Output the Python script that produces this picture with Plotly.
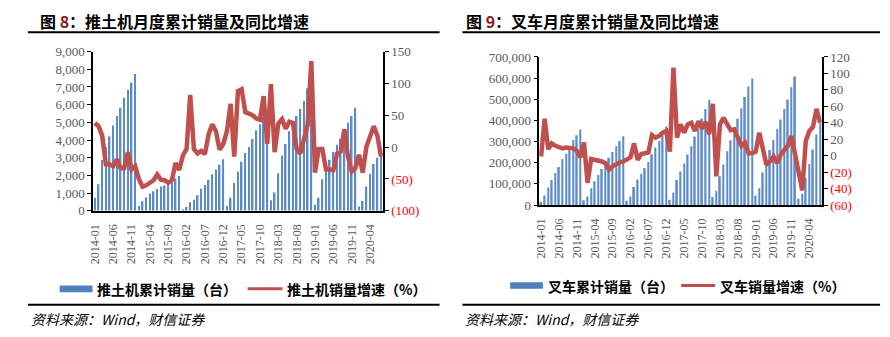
import plotly.graph_objects as go

# ---------------- data ----------------
months = [f"{y}-{m:02d}" for y in range(2014, 2021) for m in range(1, 13)][:79]
tick_months = months[::5]

dozer_cum = [740, 1500, 2870, 3590, 4200, 4820, 5360, 5830, 6390, 6840, 7260, 7730,
             270, 540, 760, 975, 1100, 1230, 1370, 1430, 1500, 1600, 1820, 1970,
             70, 220, 490, 630, 880, 1250, 1460, 1750, 2060, 2330, 2600, 2920,
             290, 740, 1570, 2220, 2780, 3270, 3610, 4060, 4550, 4890, 5300, 5670,
             590, 1040, 2120, 3120, 3770, 4500, 4950, 5360, 5760, 6210, 6930, 7300,
             340, 740, 1790, 2400, 2880, 3330, 3740, 4080, 4640, 4980, 5360, 5830,
             250, 560, 1380, 2100, 2650, 3000, 3250]
dozer_yoy = [38, 33, 18, -27, -27, -30, -19, -33, -33, -8, -35, -30,
             -50, -62, -60, -57, -52, -43, -51, -52, -56, -52, -25, -36,
             -13, -3, 82, -3, -10, -6, -11, 20, 36, 25, -4, 5,
             25, 68, -15, 88, 91, 55, 53, 50, 45, 43, 80, 5,
             99, -8, 37, 44, 29, 40, 38, -3, -10, 15, 35, 135,
             -40, -3, -3, -35, -36, -36, -10, -7, 28, -15, -38, -33,
             -12, -40, 0, 18, 33, 18, -15]

fork_cum = [15, 45, 83, 118, 151, 180, 216, 242, 272, 307, 330, 357,
            23, 40, 80, 113, 142, 171, 197, 224, 251, 278, 303, 325,
            21, 41, 86, 121, 148, 175, 203, 240, 272, 303, 330, 371,
            25, 60, 118, 159, 197, 239, 278, 324, 362, 408, 454, 497,
            38, 68, 136, 192, 254, 306, 360, 408, 458, 511, 560, 598,
            45, 80, 154, 197, 260, 307, 360, 404, 454, 499, 557, 608,
            30, 53, 129, 194, 263, 334, 389]
fork_cum = [v * 1000 for v in fork_cum]
fork_yoy = [-1, 45, 8, 15, 12, 10, 9, 10, 10, 9, 6, -2,
            16, -33, -4, -5, -5, -7, -9, -17, -13, -10, -8, -7,
            -4, -2, 15, -5, 2, 3, 4, 25, 22, 24, 28, 30,
            5, 107, 22, 38, 28, 38, 40, 30, 42, 33, 41, 26,
            63, -25, 38, 46, 38, 31, 32, 22, 12, 16, 3, 3,
            5, 28, 10, -11, -7, -1, -9, 1, 7, 12, 24, 0,
            -25, -42, 18, 30, 35, 57, 40]

dozer_right_vals = [-100, -50, 0, 50, 100, 150]
fork_right_vals = [-60, -40, -20, 0, 20, 40, 60, 80, 100, 120]

BLUE = "#5B8BC8"
RED = "#C0504D"
GRAY = "#595959"
SERIF = "Liberation Serif"
CJK = "Noto Sans CJK SC"
W, H = 890, 337


def px(x):
    return x / W


def py(y):
    return 1 - y / H


def rlabel(v):
    if v < 0:
        return f"<span style='color:#FF0000'>({abs(v)})</span>"
    return str(v)


fig = go.Figure()
fig.add_trace(go.Bar(x=months, y=dozer_cum, marker=dict(color=BLUE, line=dict(width=0)),
                     xaxis="x", yaxis="y", showlegend=False))
fig.add_trace(go.Scatter(x=months, y=dozer_yoy, mode="lines", line=dict(color=RED, width=4.5),
                         xaxis="x", yaxis="y2", showlegend=False))
fig.add_trace(go.Bar(x=months, y=fork_cum, marker=dict(color=BLUE, line=dict(width=0)),
                     xaxis="x2", yaxis="y3", showlegend=False))
fig.add_trace(go.Scatter(x=months, y=fork_yoy, mode="lines", line=dict(color=RED, width=4.5),
                         xaxis="x2", yaxis="y4", showlegend=False))

tickfont = dict(family=SERIF, size=13, color=GRAY)
xfont = dict(family=SERIF, size=12, color=GRAY)

common_x = dict(type="category", tickmode="array", tickvals=tick_months, ticktext=tick_months,
                tickangle=-90, tickfont=xfont, showline=True, linecolor="#000000", linewidth=1.5,
                ticks="", showgrid=False, zeroline=False, range=[-0.5, len(months) - 0.5],
                ticklabelstandoff=7)
common_y = dict(showline=True, linecolor="#000000", linewidth=1.5, ticks="outside", ticklen=4,
                tickcolor="#000000", showgrid=False, zeroline=False, tickfont=tickfont)

fig.update_layout(
    width=W, height=H, autosize=False,
    margin=dict(l=0, r=0, t=0, b=0),
    paper_bgcolor="white", plot_bgcolor="white",
    bargap=0.55,
    xaxis=dict(domain=[px(88.5), px(380)], anchor="y", **common_x),
    yaxis=dict(domain=[py(213.3), py(46.7)], anchor="x", range=[0, 9000], dtick=1000,
               tickformat=",", **common_y),
    yaxis2=dict(domain=[py(213.3), py(46.7)], anchor="x", overlaying="y", side="right",
                range=[-100, 150], tickmode="array", tickvals=dozer_right_vals,
                ticktext=[rlabel(v) for v in dozer_right_vals], **common_y),
    xaxis2=dict(domain=[px(537.3), px(821.5)], anchor="y3", **common_x),
    yaxis3=dict(domain=[py(207.3), py(52.3)], anchor="x2", range=[0, 700000], dtick=100000,
                tickformat=",", **common_y),
    yaxis4=dict(domain=[py(207.3), py(52.3)], anchor="x2", overlaying="y3", side="right",
                range=[-60, 120], tickmode="array", tickvals=fork_right_vals,
                ticktext=[rlabel(v) for v in fork_right_vals], **common_y),
)

shapes = []
annotations = []


def hline(x0, x1, y, w=2, color="#000000"):
    shapes.append(dict(type="line", xref="paper", yref="paper", x0=px(x0), x1=px(x1),
                       y0=py(y), y1=py(y), line=dict(color=color, width=w)))


def text(x, y, s, size, family=CJK, color="#000000", anchor="left"):
    annotations.append(dict(xref="paper", yref="paper", x=px(x), y=py(y), text=s,
                            showarrow=False, xanchor=anchor, yanchor="middle",
                            font=dict(family=family, size=size, color=color)))


# titles
text(33, 15, "<b>图 <span style='color:#8B1A1A'>8</span>：推土机月度累计销量及同比增速</b>", 16)
text(462, 15, "<b>图 <span style='color:#8B1A1A'>9</span>：叉车月度累计销量及同比增速</b>", 16)
hline(23, 437, 26.5)
hline(460, 880, 26.5)
hline(23, 437, 311.5)
hline(460, 880, 311.5)
text(24, 327, "<i>资料来源：Wind，财信证券</i>", 14)
text(461, 327, "<i>资料来源：Wind，财信证券</i>", 14)

# legends
shapes.append(dict(type="rect", xref="paper", yref="paper", x0=px(55), x1=px(88),
                   y0=py(298.5), y1=py(291.5), fillcolor="#4F81BD", line=dict(width=0)))
text(91, 295.5, "<b>推土机累计销量（台）</b>", 14)
hline(244, 279, 295, w=3, color=RED)
text(282, 295.5, "<b>推土机销量增速（%）</b>", 14)

shapes.append(dict(type="rect", xref="paper", yref="paper", x0=px(508), x1=px(541),
                   y0=py(295), y1=py(288), fillcolor="#4F81BD", line=dict(width=0)))
text(544, 292, "<b>叉车累计销量（台）</b>", 14)
hline(680, 714, 291.5, w=3, color=RED)
text(717, 292, "<b>叉车销量增速（%）</b>", 14)

fig.update_layout(shapes=shapes, annotations=annotations)
fig.write_html("out.html")
